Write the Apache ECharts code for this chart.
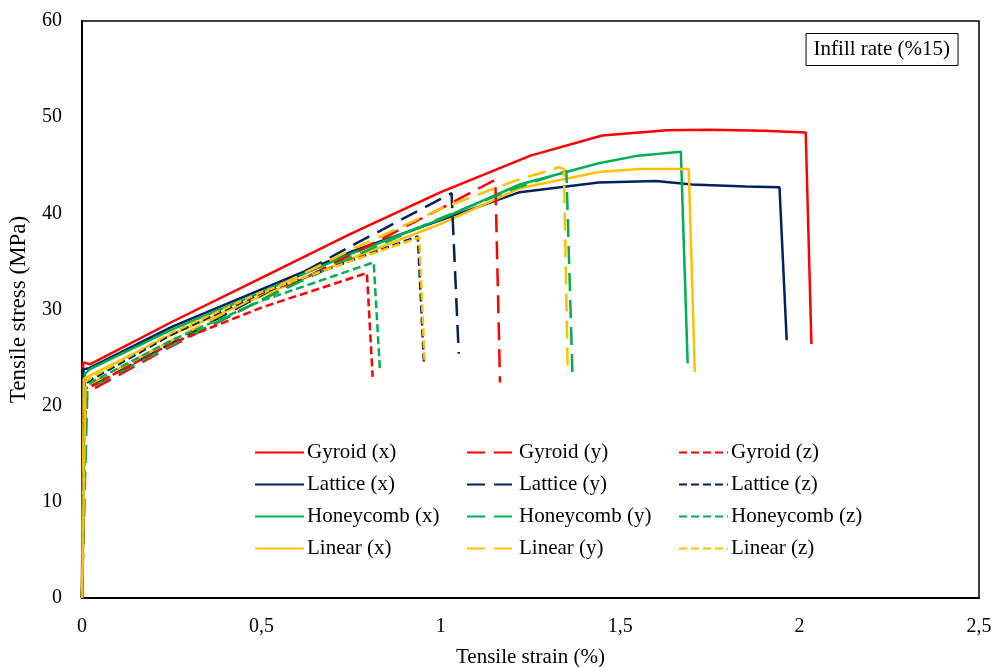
<!DOCTYPE html>
<html>
<head>
<meta charset="utf-8">
<script src="https://cdn.jsdelivr.net/npm/echarts@6/dist/echarts.min.js"></script>
<style>
  html, body { margin: 0; padding: 0; background: #fff; }
  #chart { width: 993px; height: 667px; }
</style>
</head>
<body>
<div id="chart"></div>
<script>
// strain (%) , stress (MPa)
const gyroidX = [[0, 0], [0.003, 24.5], [0.022, 24.3], [0.25, 28.7], [0.5, 33.3], [0.75, 37.9], [1.0, 42.2], [1.25, 46.0], [1.45, 48.1], [1.63, 48.65], [1.75, 48.7], [1.9, 48.6], [2.017, 48.4], [2.033, 26.4]];
const latticeX = [[0, 0], [0.004, 23.8], [0.02, 23.9], [0.25, 28.2], [0.5, 32.1], [0.75, 36.0], [1.0, 39.3], [1.22, 42.2], [1.44, 43.2], [1.6, 43.35], [1.7, 43.0], [1.85, 42.8], [1.944, 42.7], [1.964, 26.8]];
const honeycombX = [[0, 0], [0.008, 23.3], [0.022, 23.8], [0.25, 27.9], [0.5, 31.8], [0.75, 35.8], [1.0, 39.4], [1.22, 43.0], [1.44, 45.2], [1.55, 46.0], [1.669, 46.4], [1.688, 24.4]];
const linearX = [[0, 0], [0.005, 22.8], [0.02, 23.1], [0.25, 27.4], [0.5, 31.4], [0.75, 35.3], [1.0, 38.9], [1.22, 42.6], [1.44, 44.3], [1.55, 44.6], [1.691, 44.6], [1.708, 23.5]];

const gyroidY = [[0, 0], [0.012, 21.5], [0.035, 21.8], [0.25, 26.2], [0.5, 31.0], [0.75, 35.7], [1.0, 40.5], [1.152, 43.5], [1.165, 22.4]];
const latticeY = [[0, 0], [0.01, 21.7], [0.025, 22.0], [0.25, 26.5], [0.5, 31.5], [0.75, 36.6], [1.0, 41.5], [1.03, 42.1], [1.05, 25.4]];
const honeycombY = [[0, 0], [0.015, 21.5], [0.03, 22.0], [0.25, 26.3], [0.5, 31.0], [0.75, 35.4], [1.0, 39.5], [1.2, 42.5], [1.35, 44.4], [1.367, 23.2]];
const linearY = [[0, 0], [0.01, 22.0], [0.03, 22.4], [0.25, 26.8], [0.5, 31.6], [0.75, 36.2], [1.0, 40.5], [1.2, 43.3], [1.33, 44.8], [1.343, 44.6], [1.354, 23.2]];

const gyroidZ = [[0, 0], [0.01, 21.8], [0.03, 22.1], [0.25, 26.5], [0.5, 30.2], [0.794, 33.8], [0.81, 23.0]];
const latticeZ = [[0, 0], [0.01, 22.3], [0.03, 22.8], [0.25, 27.4], [0.5, 31.7], [0.936, 37.6], [0.953, 24.4]];
const honeycombZ = [[0, 0], [0.01, 22.0], [0.03, 22.5], [0.25, 26.8], [0.5, 30.9], [0.813, 34.9], [0.83, 23.9]];
const linearZ = [[0, 0], [0.01, 22.5], [0.03, 23.0], [0.25, 27.6], [0.5, 31.8], [0.94, 37.5], [0.955, 24.4]];

const colors = { Gyroid: '#FF0000', Lattice: '#002060', Honeycomb: '#00B050', Linear: '#FFC000' };
const dashes = { x: 'solid', y: [18, 9], z: [8, 4] };

const font = '"Liberation Serif", "Times New Roman", serif';

function makeSeries(name, dir, data) {
    return {
        name: name + ' (' + dir + ')',
        type: 'line',
        data: data,
        symbol: 'none',
        smooth: false,
        lineStyle: {
            color: colors[name],
            width: 2.5,
            type: dashes[dir]
        },
        itemStyle: { color: colors[name] }
    };
}

const series = [
    makeSeries('Gyroid', 'x', gyroidX),
    makeSeries('Lattice', 'x', latticeX),
    makeSeries('Honeycomb', 'x', honeycombX),
    makeSeries('Linear', 'x', linearX),
    makeSeries('Gyroid', 'y', gyroidY),
    makeSeries('Lattice', 'y', latticeY),
    makeSeries('Honeycomb', 'y', honeycombY),
    makeSeries('Linear', 'y', linearY),
    makeSeries('Gyroid', 'z', gyroidZ),
    makeSeries('Lattice', 'z', latticeZ),
    makeSeries('Honeycomb', 'z', honeycombZ),
    makeSeries('Linear', 'z', linearZ)
];

function legendCol(dir, left) {
    return {
        orient: 'vertical',
        left: left,
        top: 442,
        padding: 0,
        itemWidth: 49,
        itemHeight: 14,
        itemGap: 11,
        selectedMode: false,
        itemStyle: { opacity: 0 },
        data: ['Gyroid', 'Lattice', 'Honeycomb', 'Linear'].map(n => n + ' (' + dir + ')'),
        textStyle: { fontFamily: font, fontSize: 21, color: '#000', padding: [0, 0, 0, -2] }
    };
}

const chart = echarts.init(document.getElementById('chart'));
chart.setOption({
    animation: false,
    backgroundColor: '#fff',
    title: {
        text: 'Infill rate (%15)',
        right: 35,
        top: 33,
        padding: [6, 8, 6, 8],
        borderColor: '#000',
        borderWidth: 1,
        textStyle: { fontFamily: font, fontSize: 21, fontWeight: 'normal', color: '#000' }
    },
    legend: [legendCol('x', 254), legendCol('y', 466), legendCol('z', 678)],
    grid: {
        left: 82,
        right: 14,
        top: 21,
        bottom: 69,
        show: true,
        containLabel: false,
        outerBoundsMode: 'none',
        borderColor: '#000',
        borderWidth: 1.5
    },
    xAxis: {
        type: 'value',
        min: 0,
        max: 2.5,
        interval: 0.5,
        name: 'Tensile strain (%)',
        nameLocation: 'middle',
        nameGap: 49,
        nameTextStyle: { fontFamily: font, fontSize: 21, color: '#000' },
        axisLine: { show: true, onZero: false, lineStyle: { color: '#000', width: 2 } },
        axisTick: { show: false },
        splitLine: { show: false },
        axisLabel: {
            margin: 19,
            fontFamily: font,
            fontSize: 20,
            color: '#000',
            formatter: v => String(v).replace('.', ',')
        }
    },
    yAxis: {
        type: 'value',
        min: 0,
        max: 60,
        interval: 10,
        name: 'Tensile stress (MPa)',
        nameLocation: 'middle',
        nameGap: 52,
        nameTextStyle: { fontFamily: font, fontSize: 23, color: '#000' },
        axisLine: { show: true, lineStyle: { color: '#000', width: 2 } },
        axisTick: { show: false },
        splitLine: { show: false },
        axisLabel: { margin: 20, fontFamily: font, fontSize: 20, color: '#000' }
    },
    series: series
});
</script>
</body>
</html>
